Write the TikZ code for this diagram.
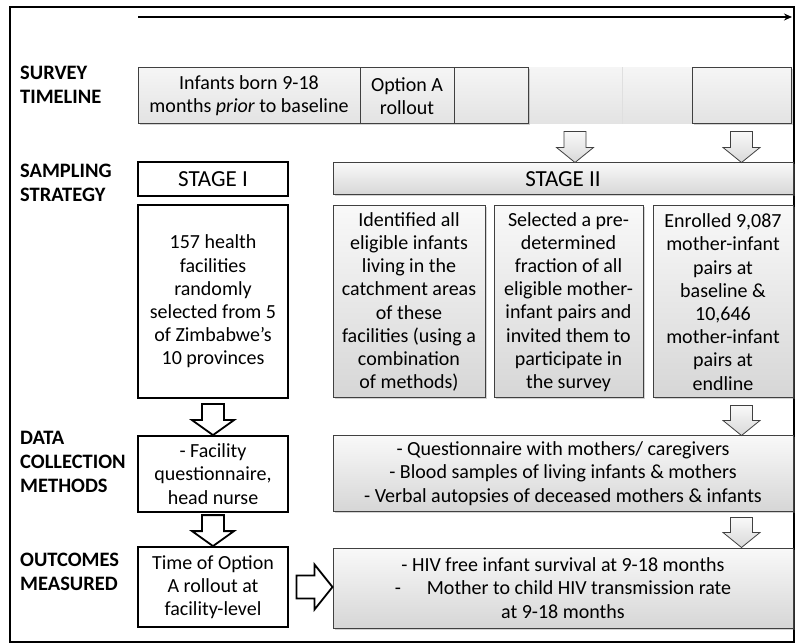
\documentclass[tikz,border=0pt]{standalone}
\usepackage{fontspec}
\setmainfont{Carlito}
\usetikzlibrary{positioning,calc,shadows,arrows.meta}

\tikzstyle{rowlabel} = [anchor=west, align=left, inner sep=0pt, font=\bfseries\fontsize{20.5}{24}\selectfont]
\tikzstyle{whitebox} = [rectangle, draw, line width=1.8pt, fill=white, align=center, inner sep=0pt, font=\fontsize{20}{23.2}\selectfont]
\tikzstyle{graybox} = [rectangle, draw=black!75, line width=1pt, top color=gray!5, bottom color=gray!32, align=center, inner sep=0pt, font=\fontsize{20}{23.2}\selectfont]
\tikzstyle{tlbox} = [graybox, top color=gray!8, bottom color=gray!22, minimum height=56pt]
\tikzstyle{shadowed} = [drop shadow={shadow xshift=1.5pt, shadow yshift=-1.5pt, opacity=0.35}]
\tikzstyle{stagefont} = [font=\fontsize{23}{26}\selectfont]
\tikzstyle{darrow} = [draw=black!75, line width=0.8pt, top color=gray!5, bottom color=gray!30, line join=miter]
\tikzstyle{warrow} = [draw, line width=1.8pt, fill=white, line join=miter]

% block arrow pointing down: style, tip, length, half head width
\newcommand{\blockdown}[4]{%
  \draw[#1] ($(#2)+(-11,-#3)$) -- ($(#2)+(11,-#3)$) -- ($(#2)+(11,-15)$) -- ($(#2)+(#4,-15)$)
    -- (#2) -- ($(#2)+(-#4,-15)$) -- ($(#2)+(-11,-15)$) -- cycle;}
% block arrow pointing right: style, tip, length
\newcommand{\blockright}[3]{%
  \draw[#1] ($(#2)+(-#3,-11.5)$) -- ($(#2)+(-18,-11.5)$) -- ($(#2)+(-18,-22.5)$) -- (#2)
    -- ($(#2)+(-18,22.5)$) -- ($(#2)+(-18,11.5)$) -- ($(#2)+(-#3,11.5)$) -- cycle;}

\begin{document}
\begin{tikzpicture}[x=1pt, y=-1pt]
    \useasboundingbox (0,0) rectangle (796,644);
    \draw[line width=2pt] (10,7) rectangle (794,642);

    % time axis
    \coordinate (t0) at (138,17);
    \coordinate (t1) at (792,17);
    \draw[line width=2.5pt, -{Stealth[length=8pt, width=7pt]}] (t0) -- (t1);

    % row labels
    \node[rowlabel] (lab1) at (20,85) {SURVEY\\TIMELINE};
    \node[rowlabel] (lab2) at (20,183) {SAMPLING\\STRATEGY};
    \node[rowlabel] (lab3) at (20,462) {DATA\\COLLECTION\\METHODS};
    \node[rowlabel] (lab4) at (20,572) {OUTCOMES\\MEASURED};

    % survey timeline
    \node[tlbox, draw=none, minimum width=94pt] (tl4) at (575,96) {};
    \node[tlbox, draw=none, minimum width=70pt] (tl5) at (657,96) {};
    \draw[gray!25, line width=1pt] (tl4.north east) -- (tl4.south east);
    \node[tlbox, shadowed, minimum width=222pt] (tl1) at (249,96) {Infants born 9-18\\months \textit{prior} to baseline};
    \node[tlbox, shadowed, minimum width=94pt] (tl2) at (407,96) {Option A\\rollout};
    \node[tlbox, shadowed, minimum width=74pt] (tl3) at (491,96) {};
    \node[tlbox, shadowed, minimum width=99pt] (tl6) at (741.5,96) {};

    % sampling strategy
    \node[whitebox, stagefont, minimum width=150pt, minimum height=34pt] (st1) at (213,179) {STAGE I};
    \node[whitebox, minimum width=150pt, minimum height=193pt] (s1) at (213,301.5) {157 health\\facilities\\randomly\\selected from 5\\of Zimbabwe’s\\10 provinces};
    \node[graybox, shadowed, stagefont, minimum width=460pt, minimum height=32pt] (st2) at (563,179) {STAGE II};
    \node[graybox, shadowed, minimum width=152pt, minimum height=192pt] (sa) at (409,302) {Identified all\\eligible infants\\living in the\\catchment areas\\of these\\facilities (using a\\combination\\of methods)};
    \node[graybox, shadowed, minimum width=149pt, minimum height=192pt] (sb) at (568.5,302) {Selected a pre-\\determined\\fraction of all\\eligible mother-\\infant pairs and\\invited them to\\participate in\\the survey};
    \node[graybox, shadowed, minimum width=140pt, minimum height=192pt] (sc) at (723,302) {Enrolled 9,087\\mother-infant\\pairs at\\baseline \&\\10,646\\mother-infant\\pairs at\\endline};

    % data collection and outcomes
    \node[whitebox, minimum width=150pt, minimum height=76pt] (dl) at (213,474) {- Facility\\questionnaire,\\head nurse};
    \node[whitebox, minimum width=150pt, minimum height=80pt] (ol) at (213,587) {Time of Option\\A rollout at\\facility-level};
    \node[graybox, shadowed, minimum width=460pt, minimum height=75pt] (dr) at (563,473.5) {- Questionnaire with mothers/ caregivers\\- Blood samples of living infants \& mothers\\- Verbal autopsies of deceased mothers \& infants};
    \node[graybox, shadowed, minimum width=460pt, minimum height=80pt] (or) at (563,588) {- HIV free infant survival at 9-18 months\\-\hspace{1.3em}Mother to child HIV transmission rate\\at 9-18 months};

    % block arrows
    \blockdown{darrow}{tl4.south |- st2.north}{31}{18.5}
    \blockdown{darrow}{tl6.south |- st2.north}{31}{18.5}
    \blockdown{darrow}{tl6.south |- dr.north}{30}{18.5}
    \blockdown{darrow}{tl6.south |- or.north}{30}{18.5}
    \blockdown{warrow}{dl.north}{31}{21}
    \blockdown{warrow}{ol.north}{31}{21}
    \blockright{warrow}{or.west |- ol.east}{36}
\end{tikzpicture}
\end{document}
